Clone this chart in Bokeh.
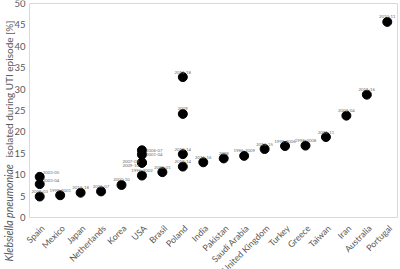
from math import pi
from bokeh.plotting import figure
from bokeh.models import ColumnDataSource, Range1d
from bokeh.core.properties import value
from bokeh.embed import file_html
from bokeh.resources import INLINE

countries = ["Spain", "Mexico", "Japan", "Netherlands", "Korea", "USA", "Brasil",
             "Poland", "India", "Pakistan", "Saudi Arabia", "United Kingdom",
             "Turkey", "Greece", "Taiwan", "Iran", "Australia", "Portugal"]

pt_country = ["Spain", "Spain", "Spain", "Mexico", "Japan", "Netherlands", "Korea",
              "USA", "USA", "USA", "USA", "USA", "Brasil",
              "Poland", "Poland", "Poland", "Poland", "India", "Pakistan",
              "Saudi Arabia", "United Kingdom", "Turkey", "Greece", "Taiwan",
              "Iran", "Australia", "Portugal"]
pt_value = [4.9, 7.8, 9.5, 5.2, 5.8, 6.1, 7.6,
            9.8, 12.8, 12.8, 14.7, 15.7, 10.6,
            11.9, 14.8, 24.2, 32.8, 12.9, 13.8,
            14.4, 16.0, 16.7, 16.8, 18.8,
            23.8, 28.7, 45.7]
pt_label = ["2001-03", "2003-04", "2003-05", "1999-2001", "2013-18", "2005-07", "2000-10",
            "1996-2002", "2007-08", "2009-10", "2001-04", "2006-07", "2000-01",
            "2013-14", "2013-14", "2009", "2011-18", "2015-16", "2008",
            "1986-2009", "2013-15", "1999-2006", "1998-2008", "2001-11",
            "2002-04", "2011-16", "2010-11"]
y_ticks = [0, 5, 10, 15, 20, 25, 30, 35, 40, 45, 50]
y_title_italic = "Klebsiella pneumoniae"
y_title_rest = "isolated during UTI episode [%]"

# label placement style: a = above, ra = right-above, r = right,
# lu = left-upper, ld = left-lower
placement = ["a", "ra", "ra", "a", "a", "a", "a",
             "a", "lu", "ld", "r", "r", "a",
             "a", "a", "a", "a", "a", "a",
             "a", "a", "a", "a", "a",
             "a", "a", "a"]

align_map = {"a": "center", "ra": "left", "r": "left", "lu": "right", "ld": "right"}
xoff_map = {"a": 0, "ra": 3, "r": 4, "lu": -3, "ld": -3}
yoff_map = {"a": -5, "ra": -4, "r": 0, "lu": -1.5, "ld": 3}

W, H = 400, 269
FL, FR, FT, FB = 29, 397, 3, 217      # plot-frame pixel edges
YMAX = 50
ncat = len(countries)
xu = (FR - FL) / ncat                  # px per category
yu = (FB - FT) / YMAX                  # px per % unit

def px_x(px):
    return (px - FL) / xu

def px_y(py):
    return (FB - py) / yu

x_range = Range1d(px_x(0), px_x(W))
y_range = Range1d(px_y(H), px_y(0))

p = figure(width=W, height=H, x_range=x_range, y_range=y_range,
           output_backend="svg", toolbar_location=None,
           x_axis_location=None, y_axis_location=None,
           min_border=0, min_border_left=0, min_border_right=0,
           min_border_top=0, min_border_bottom=0)
p.xgrid.grid_line_color = None
p.ygrid.grid_line_color = None
p.outline_line_color = None
p.background_fill_color = "white"
p.border_fill_color = "white"

cat_pos = {c: i + 0.5 for i, c in enumerate(countries)}

# frame box
p.quad(left=[0], right=[ncat], bottom=[0], top=[YMAX], fill_color=None,
       line_color="#d9d9d9", line_width=1)

src = ColumnDataSource(dict(
    x=[cat_pos[c] for c in pt_country], value=pt_value, label=pt_label,
    align=[align_map[q] for q in placement],
    xoff=[xoff_map[q] for q in placement],
    yoff=[yoff_map[q] for q in placement],
))

p.scatter("x", "value", source=src, size=9, color="black")
p.text("x", "value", text="label", source=src, text_font_size="4.3px",
       text_color="#6e6e6e", text_align="align", text_baseline="middle",
       x_offset="xoff", y_offset="yoff", text_font=value("Lato"))

# y tick labels
p.text(x=[0] * len(y_ticks), y=y_ticks, text=[str(t) for t in y_ticks],
       text_align="right", text_baseline="middle", x_offset=-4,
       text_font=value("Lato"), text_font_size="9.5px", text_color="#595959")

# x tick labels
p.text(x=[cat_pos[c] for c in countries], y=[0] * ncat, text=countries,
       angle=pi / 4, text_align="right", text_baseline="middle",
       x_offset=3, y_offset=9,
       text_font=value("Lato"), text_font_size="8.8px", text_color="#595959")

# y axis title
p.text(x=[px_x(8)], y=[px_y(261)], text=[y_title_italic], angle=pi / 2,
       text_align="left", text_baseline="middle", text_font=value("Lato"),
       text_font_style="italic", text_font_size="10.5px", text_color="#595959")
p.text(x=[px_x(8)], y=[px_y(157)], text=[y_title_rest], angle=pi / 2,
       text_align="left", text_baseline="middle", text_font=value("Lato"),
       text_font_size="10px", text_color="#595959")

open("out.html", "w").write(file_html(p, INLINE))
